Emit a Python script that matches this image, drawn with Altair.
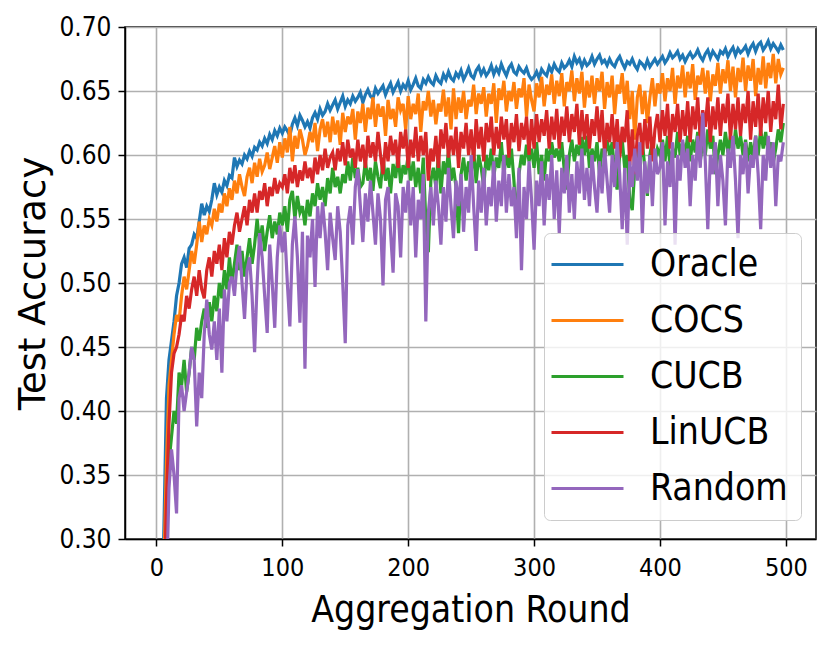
import altair as alt
import pandas as pd

rounds = list(range(0, 500, 2))
methods = ["Oracle", "COCS", "CUCB", "LinUCB", "Random"]
colors = ["#1f77b4", "#ff7f0e", "#2ca02c", "#d62728", "#9467bd"]

oracle = [
    0.10, 0.15, 0.22, 0.31, 0.41, 0.44, 0.455, 0.47, 0.49, 0.50,
    0.515, 0.52, 0.512, 0.527, 0.53, 0.538, 0.535, 0.548, 0.562, 0.553,
    0.56, 0.556, 0.565, 0.578, 0.569, 0.575, 0.571, 0.58, 0.576, 0.584,
    0.582, 0.598, 0.591, 0.596, 0.593, 0.60, 0.597, 0.603, 0.599, 0.606,
    0.604, 0.61, 0.607, 0.613, 0.609, 0.616, 0.612, 0.619, 0.615, 0.621,
    0.617, 0.622, 0.619, 0.615, 0.624, 0.629, 0.623, 0.631, 0.627, 0.622,
    0.626, 0.621, 0.629, 0.633, 0.628, 0.636, 0.631, 0.634, 0.64, 0.635,
    0.639, 0.643, 0.636, 0.641, 0.646, 0.638, 0.643, 0.64, 0.646, 0.642,
    0.645, 0.649, 0.641, 0.647, 0.651, 0.646, 0.644, 0.652, 0.648, 0.651,
    0.654, 0.647, 0.652, 0.656, 0.649, 0.653, 0.657, 0.65, 0.655, 0.652,
    0.658, 0.651, 0.655, 0.66, 0.654, 0.652, 0.659, 0.656, 0.661, 0.657,
    0.655, 0.662, 0.658, 0.656, 0.663, 0.659, 0.665, 0.66, 0.658, 0.664,
    0.661, 0.666, 0.659, 0.663, 0.668, 0.662, 0.66, 0.666, 0.669, 0.663,
    0.667, 0.662, 0.665, 0.67, 0.663, 0.668, 0.664, 0.671, 0.666, 0.662,
    0.668, 0.671, 0.665, 0.663, 0.669, 0.666, 0.664, 0.668, 0.662, 0.659,
    0.661, 0.665, 0.66, 0.667, 0.664, 0.662, 0.669, 0.665, 0.671, 0.667,
    0.665, 0.672, 0.668, 0.67, 0.674, 0.669, 0.677, 0.672, 0.675, 0.669,
    0.674, 0.67, 0.672, 0.677, 0.671, 0.675, 0.678, 0.672, 0.674, 0.67,
    0.675, 0.671, 0.669, 0.674, 0.677, 0.672, 0.668, 0.673, 0.671, 0.675,
    0.67, 0.667, 0.673, 0.671, 0.668, 0.674, 0.669, 0.672, 0.675, 0.671,
    0.674, 0.677, 0.672, 0.675, 0.68, 0.676, 0.678, 0.681, 0.675, 0.678,
    0.673, 0.677, 0.68, 0.676, 0.678, 0.682, 0.677, 0.674, 0.679, 0.682,
    0.676, 0.681, 0.678, 0.675, 0.681, 0.679, 0.683, 0.677, 0.681, 0.684,
    0.678, 0.683, 0.68, 0.682, 0.685, 0.679, 0.684, 0.687, 0.681, 0.686,
    0.688, 0.682, 0.685, 0.689, 0.683, 0.687, 0.684, 0.681, 0.686, 0.682,
]

cocs = [
    0.10, 0.13, 0.19, 0.28, 0.36, 0.42, 0.44, 0.46, 0.475, 0.47,
    0.49, 0.505, 0.495, 0.51, 0.525, 0.515, 0.53, 0.548, 0.532, 0.545,
    0.538, 0.55, 0.545, 0.558, 0.548, 0.562, 0.555, 0.57, 0.56, 0.574,
    0.565, 0.58, 0.57, 0.585, 0.575, 0.568, 0.583, 0.59, 0.578, 0.594,
    0.583, 0.597, 0.587, 0.592, 0.602, 0.589, 0.598, 0.607, 0.594, 0.61,
    0.598, 0.613, 0.602, 0.622, 0.595, 0.615, 0.605, 0.62, 0.612, 0.60,
    0.607, 0.618, 0.61, 0.625, 0.603, 0.62, 0.628, 0.614, 0.626, 0.61,
    0.63, 0.616, 0.627, 0.608, 0.633, 0.618, 0.63, 0.624, 0.636, 0.612,
    0.634, 0.625, 0.64, 0.618, 0.637, 0.628, 0.645, 0.622, 0.64, 0.63,
    0.638, 0.615, 0.643, 0.628, 0.636, 0.622, 0.645, 0.635, 0.64, 0.62,
    0.646, 0.628, 0.64, 0.632, 0.648, 0.618, 0.642, 0.635, 0.65, 0.63,
    0.643, 0.624, 0.64, 0.634, 0.651, 0.63, 0.645, 0.62, 0.652, 0.628,
    0.645, 0.633, 0.65, 0.628, 0.643, 0.638, 0.655, 0.632, 0.648, 0.64,
    0.653, 0.63, 0.648, 0.64, 0.656, 0.625, 0.652, 0.643, 0.658, 0.634,
    0.65, 0.642, 0.657, 0.636, 0.652, 0.645, 0.66, 0.63, 0.655, 0.643,
    0.634, 0.656, 0.645, 0.661, 0.638, 0.655, 0.647, 0.663, 0.64, 0.658,
    0.646, 0.664, 0.638, 0.657, 0.65, 0.666, 0.642, 0.66, 0.648, 0.665,
    0.637, 0.658, 0.645, 0.662, 0.64, 0.66, 0.65, 0.665, 0.636, 0.657,
    0.645, 0.662, 0.632, 0.655, 0.648, 0.664, 0.64, 0.658, 0.628, 0.65,
    0.612, 0.645, 0.655, 0.632, 0.65, 0.625, 0.645, 0.66, 0.638, 0.656,
    0.648, 0.664, 0.642, 0.66, 0.65, 0.668, 0.64, 0.662, 0.652, 0.67,
    0.645, 0.665, 0.652, 0.671, 0.643, 0.662, 0.655, 0.668, 0.648, 0.666,
    0.642, 0.663, 0.654, 0.672, 0.648, 0.667, 0.656, 0.674, 0.65, 0.669,
    0.645, 0.668, 0.657, 0.676, 0.65, 0.67, 0.658, 0.675, 0.646, 0.668,
    0.655, 0.677, 0.652, 0.672, 0.66, 0.679, 0.656, 0.675, 0.663, 0.668,
]

cucb = [
    0.10, 0.12, 0.16, 0.22, 0.30, 0.36, 0.38, 0.40, 0.39, 0.43,
    0.42, 0.44, 0.415, 0.43, 0.45, 0.44, 0.465, 0.455, 0.47, 0.48,
    0.465, 0.485, 0.47, 0.49, 0.478, 0.50, 0.488, 0.51, 0.495, 0.52,
    0.50, 0.515, 0.53, 0.51, 0.525, 0.505, 0.52, 0.535, 0.515, 0.53,
    0.55, 0.53, 0.545, 0.525, 0.54, 0.553, 0.535, 0.548, 0.538, 0.555,
    0.545, 0.56, 0.54, 0.565, 0.572, 0.55, 0.568, 0.555, 0.56, 0.545,
    0.565, 0.552, 0.57, 0.56, 0.578, 0.565, 0.575, 0.56, 0.582, 0.57,
    0.59, 0.575, 0.583, 0.57, 0.585, 0.578, 0.595, 0.58, 0.598, 0.582,
    0.59, 0.575, 0.578, 0.595, 0.58, 0.59, 0.572, 0.595, 0.583, 0.574,
    0.598, 0.58, 0.59, 0.57, 0.593, 0.582, 0.60, 0.578, 0.592, 0.585,
    0.60, 0.58, 0.595, 0.575, 0.59, 0.57, 0.598, 0.548, 0.524, 0.58,
    0.59, 0.575, 0.60, 0.57, 0.595, 0.585, 0.603, 0.58, 0.59, 0.575,
    0.539, 0.585, 0.598, 0.58, 0.595, 0.585, 0.604, 0.578, 0.60, 0.59,
    0.575, 0.60, 0.588, 0.605, 0.583, 0.598, 0.59, 0.61, 0.585, 0.60,
    0.59, 0.605, 0.58, 0.547, 0.585, 0.60, 0.592, 0.608, 0.595, 0.605,
    0.59, 0.61, 0.585, 0.60, 0.58, 0.605, 0.595, 0.61, 0.598, 0.605,
    0.595, 0.61, 0.588, 0.573, 0.60, 0.612, 0.595, 0.608, 0.60, 0.614,
    0.60, 0.615, 0.59, 0.605, 0.595, 0.61, 0.585, 0.605, 0.598, 0.612,
    0.60, 0.61, 0.585, 0.573, 0.60, 0.612, 0.59, 0.60, 0.565, 0.557,
    0.59, 0.605, 0.595, 0.61, 0.59, 0.568, 0.60, 0.612, 0.595, 0.605,
    0.60, 0.612, 0.595, 0.615, 0.59, 0.605, 0.598, 0.618, 0.60, 0.61,
    0.60, 0.615, 0.595, 0.612, 0.602, 0.618, 0.595, 0.61, 0.60, 0.62,
    0.605, 0.615, 0.585, 0.60, 0.612, 0.60, 0.618, 0.602, 0.615, 0.60,
    0.62, 0.605, 0.615, 0.60, 0.612, 0.595, 0.61, 0.598, 0.615, 0.60,
    0.62, 0.605, 0.618, 0.60, 0.61, 0.594, 0.605, 0.62, 0.61, 0.625,
]

linucb = [
    0.10, 0.12, 0.17, 0.25, 0.33, 0.39, 0.43, 0.445, 0.45, 0.46,
    0.475, 0.47, 0.49, 0.48, 0.495, 0.505, 0.49, 0.51, 0.495, 0.488,
    0.51, 0.52, 0.505, 0.525, 0.515, 0.53, 0.51, 0.535, 0.52, 0.54,
    0.53, 0.545, 0.555, 0.54, 0.55, 0.56, 0.545, 0.565, 0.555, 0.57,
    0.555, 0.572, 0.565, 0.578, 0.56, 0.575, 0.568, 0.582, 0.57, 0.578,
    0.575, 0.585, 0.57, 0.59, 0.578, 0.592, 0.575, 0.588, 0.58, 0.595,
    0.582, 0.59, 0.578, 0.598, 0.585, 0.60, 0.588, 0.605, 0.59, 0.598,
    0.602, 0.588, 0.605, 0.595, 0.61, 0.592, 0.612, 0.598, 0.605, 0.59,
    0.612, 0.595, 0.608, 0.59, 0.615, 0.598, 0.61, 0.595, 0.618, 0.60,
    0.585, 0.61, 0.595, 0.615, 0.60, 0.612, 0.59, 0.618, 0.605, 0.62,
    0.59, 0.612, 0.598, 0.622, 0.595, 0.615, 0.60, 0.618, 0.58, 0.605,
    0.595, 0.615, 0.59, 0.62, 0.605, 0.625, 0.598, 0.615, 0.60, 0.622,
    0.59, 0.618, 0.605, 0.625, 0.60, 0.62, 0.595, 0.628, 0.605, 0.622,
    0.595, 0.625, 0.61, 0.63, 0.60, 0.622, 0.605, 0.63, 0.612, 0.628,
    0.598, 0.625, 0.61, 0.632, 0.603, 0.625, 0.612, 0.63, 0.60, 0.628,
    0.605, 0.632, 0.61, 0.628, 0.615, 0.635, 0.605, 0.63, 0.612, 0.636,
    0.605, 0.63, 0.615, 0.638, 0.61, 0.632, 0.618, 0.64, 0.608, 0.635,
    0.612, 0.632, 0.605, 0.628, 0.615, 0.638, 0.61, 0.635, 0.60, 0.625,
    0.61, 0.632, 0.605, 0.628, 0.598, 0.622, 0.61, 0.635, 0.592, 0.62,
    0.585, 0.615, 0.625, 0.60, 0.628, 0.605, 0.63, 0.595, 0.62, 0.632,
    0.61, 0.635, 0.615, 0.64, 0.605, 0.632, 0.618, 0.64, 0.61, 0.635,
    0.615, 0.642, 0.61, 0.638, 0.62, 0.645, 0.612, 0.635, 0.622, 0.645,
    0.61, 0.638, 0.62, 0.645, 0.615, 0.64, 0.625, 0.648, 0.612, 0.64,
    0.62, 0.645, 0.615, 0.64, 0.625, 0.65, 0.612, 0.642, 0.622, 0.648,
    0.615, 0.645, 0.625, 0.65, 0.618, 0.642, 0.628, 0.655, 0.62, 0.64,
]

random_sel = [
    0.05, 0.08, 0.12, 0.18, 0.26, 0.34, 0.37, 0.35, 0.32, 0.41,
    0.42, 0.40, 0.415, 0.43, 0.45, 0.44, 0.388, 0.43, 0.41, 0.46,
    0.487, 0.46, 0.448, 0.47, 0.44, 0.48, 0.43, 0.495, 0.47, 0.50,
    0.505, 0.49, 0.515, 0.529, 0.50, 0.472, 0.51, 0.52, 0.49, 0.446,
    0.50, 0.539, 0.52, 0.49, 0.461, 0.53, 0.50, 0.465, 0.52, 0.545,
    0.524, 0.54, 0.50, 0.466, 0.53, 0.552, 0.52, 0.469, 0.54, 0.433,
    0.537, 0.52, 0.55, 0.497, 0.56, 0.535, 0.563, 0.54, 0.51, 0.555,
    0.535, 0.518, 0.56, 0.54, 0.50, 0.453, 0.545, 0.56, 0.53, 0.575,
    0.589, 0.56, 0.532, 0.57, 0.548, 0.58, 0.555, 0.53, 0.57, 0.55,
    0.498, 0.565, 0.575, 0.54, 0.508, 0.57, 0.56, 0.52, 0.575, 0.555,
    0.58, 0.545, 0.575, 0.52, 0.565, 0.55, 0.585, 0.47, 0.555, 0.575,
    0.545, 0.58, 0.56, 0.53, 0.575, 0.548, 0.59, 0.56, 0.535, 0.58,
    0.56, 0.585, 0.54, 0.575, 0.555, 0.60, 0.56, 0.525, 0.58, 0.555,
    0.59, 0.545, 0.575, 0.56, 0.595, 0.548, 0.58, 0.56, 0.60, 0.555,
    0.585, 0.56, 0.575, 0.535, 0.59, 0.51, 0.575, 0.55, 0.595, 0.565,
    0.526, 0.58, 0.56, 0.595, 0.545, 0.585, 0.565, 0.60, 0.55, 0.588,
    0.539, 0.59, 0.57, 0.60, 0.555, 0.585, 0.55, 0.595, 0.57, 0.605,
    0.565, 0.59, 0.56, 0.60, 0.575, 0.555, 0.595, 0.57, 0.605, 0.58,
    0.555, 0.60, 0.575, 0.61, 0.585, 0.542, 0.59, 0.53, 0.595, 0.575,
    0.605, 0.58, 0.61, 0.539, 0.595, 0.57, 0.60, 0.56, 0.605, 0.585,
    0.59, 0.61, 0.545, 0.595, 0.575, 0.61, 0.53, 0.60, 0.58, 0.612,
    0.59, 0.605, 0.56, 0.60, 0.58, 0.615, 0.59, 0.633, 0.595, 0.542,
    0.60, 0.585, 0.61, 0.56, 0.60, 0.58, 0.545, 0.605, 0.59, 0.615,
    0.58, 0.535, 0.60, 0.585, 0.61, 0.57, 0.60, 0.59, 0.615, 0.585,
    0.542, 0.60, 0.58, 0.615, 0.59, 0.61, 0.56, 0.60, 0.595, 0.61,
]

series = {"Oracle": oracle, "COCS": cocs, "CUCB": cucb,
          "LinUCB": linucb, "Random": random_sel}

rows = []
for m in methods:
    vals = series[m]
    assert len(vals) == len(rounds), (m, len(vals))
    for r, v in zip(rounds, vals):
        rows.append({"round": r, "acc": v, "method": m})
df = pd.DataFrame(rows)

cond_font = "DejaVu Sans Condensed, DejaVu Sans"

color = alt.Color(
    "method:N",
    scale=alt.Scale(domain=methods, range=colors),
    legend=alt.Legend(
        title=None,
        orient="none",
        legendX=419,
        legendY=206,
        symbolType="M-2.4,0L2.4,0",
        symbolSize=900,
        symbolStrokeWidth=3,
        symbolFillColor="transparent",
        symbolOffset=12,
        labelFontSize=37,
        labelFont=cond_font,
        labelColor="black",
        labelOffset=44,
        rowPadding=18,
        padding=13,
        fillColor="rgba(255,255,255,0.8)",
        strokeColor="#cccccc",
        cornerRadius=6,
    ),
)

x = alt.X(
    "round:Q",
    scale=alt.Scale(domain=[-24.95, 523.95], nice=False, zero=False),
    axis=alt.Axis(values=[0, 100, 200, 300, 400, 500], title="Aggregation Round",
                  labelPadding=9, titlePadding=12, labelFont=cond_font,
                  titleFont=cond_font, labelFontSize=25),
)
y = alt.Y(
    "acc:Q",
    scale=alt.Scale(domain=[0.3, 0.7], nice=False, zero=False),
    axis=alt.Axis(values=[0.30, 0.35, 0.40, 0.45, 0.50, 0.55, 0.60, 0.65, 0.70],
                  format=".2f", title="Test Accuracy", labelPadding=7,
                  titlePadding=6, labelFont=cond_font, titleFont="DejaVu Sans",
                  labelFontSize=26),
)

layers = [
    alt.Chart(df)
    .transform_filter(alt.datum.method == m)
    .mark_line(clip=True, strokeWidth=3.2)
    .encode(x=x, y=y, color=color)
    for m in methods
]

chart = (
    alt.layer(*layers)
    .properties(
        width=691,
        height=512,
        padding={"left": 117, "top": 19, "right": 6, "bottom": 96},
        autosize=alt.AutoSizeParams(type="none"),
        background="white",
    )
    .configure_axis(
        grid=True,
        gridColor="#b0b0b0",
        gridWidth=1.6,
        domainColor="black",
        domainWidth=1.5,
        tickColor="black",
        tickWidth=1.5,
        tickSize=7,
        labelColor="black",
        titleFontSize=37,
        titleFontWeight="normal",
        titleColor="black",
    )
    .configure_view(stroke="black", strokeWidth=1.5, fill="white")
)

chart.save("out.html", embed_options={"renderer": "svg", "actions": False})
